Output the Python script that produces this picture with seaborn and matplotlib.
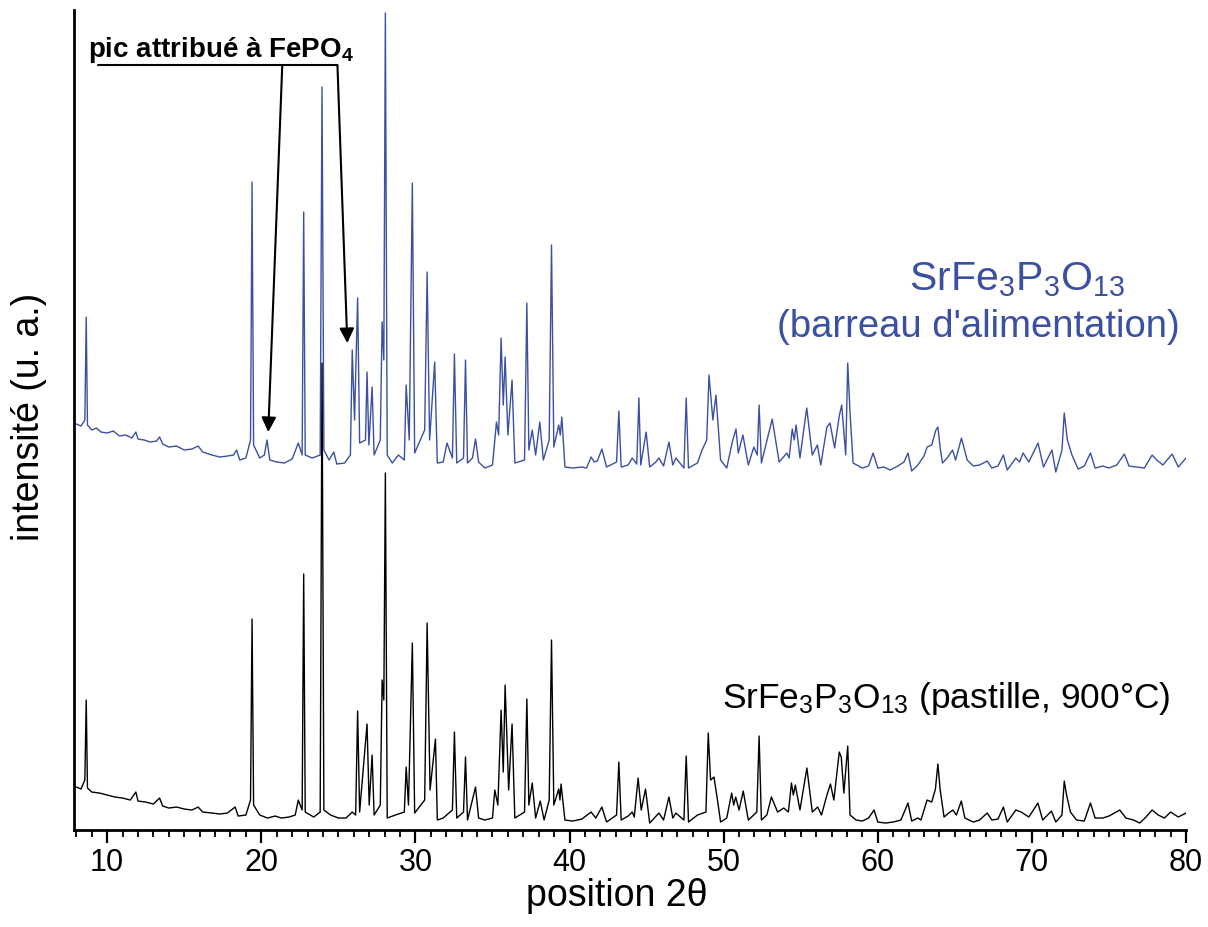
import matplotlib
matplotlib.use("Agg")
import matplotlib.pyplot as plt
from matplotlib.ticker import MultipleLocator
import seaborn as sns

# --- data (2theta in degrees, intensity in a.u.) ---
blue_two_theta = [
    8.0, 8.3, 8.55, 8.64, 8.72, 9.0, 9.3, 9.6, 10.0, 10.4, 10.8, 11.2, 11.6, 11.86, 12.0,
    12.4, 12.8, 13.2, 13.4, 13.6, 14.0, 14.5, 15.0, 15.5, 15.9, 16.2, 16.8, 17.3, 17.8, 18.2,
    18.4, 18.6, 19.0, 19.3, 19.4, 19.5, 19.9, 20.2, 20.37, 20.55, 21.0, 21.5, 22.0, 22.4, 22.65,
    22.75, 22.85, 23.3, 23.82, 23.94, 24.06, 24.4, 24.7, 24.9, 25.4, 25.78, 25.9, 26.05, 26.25, 26.38,
    26.76, 26.86, 26.98, 27.19, 27.32, 27.72, 27.84, 27.95, 28.05, 28.17, 28.5, 28.9, 29.28, 29.4, 29.6,
    29.8, 29.95, 30.6, 30.76, 30.92, 31.25, 31.42, 31.8, 32.05, 32.4, 32.53, 32.68, 33.12, 33.25, 33.38,
    33.7, 33.9, 34.1, 34.5, 35.0, 35.26, 35.4, 35.56, 35.7, 35.82, 36.0, 36.27, 36.45, 37.08, 37.23,
    37.36, 37.58, 37.8, 38.07, 38.3, 38.68, 38.83, 38.98, 39.3, 39.4, 39.5, 39.7, 40.2, 40.8, 41.1,
    41.4, 41.6, 41.8, 42.1, 42.4, 43.05, 43.2, 43.35, 43.8, 44.07, 44.36, 44.5, 44.62, 44.97, 45.2,
    45.6, 45.8, 46.1, 46.45, 46.7, 46.9, 47.42, 47.57, 47.72, 48.3, 48.6, 48.9, 49.05, 49.3, 49.5,
    49.8, 50.2, 50.56, 50.8, 50.95, 51.25, 51.6, 51.96, 52.18, 52.3, 52.45, 53.15, 53.6, 54.1, 54.25,
    54.45, 54.58, 54.7, 54.95, 55.39, 55.75, 56.08, 56.3, 56.7, 56.9, 57.2, 57.5, 57.66, 57.92, 58.05,
    58.2, 58.4, 59.0, 59.4, 59.7, 60.0, 60.4, 60.8, 61.3, 61.7, 61.96, 62.2, 62.6, 63.0, 63.2,
    63.5, 63.77, 63.9, 64.05, 64.2, 64.5, 64.85, 65.05, 65.43, 65.8, 66.2, 66.6, 67.1, 67.4, 67.8,
    68.15, 68.4, 68.96, 69.2, 69.43, 69.8, 70.4, 70.75, 71.3, 71.55, 71.95, 72.1, 72.3, 72.6, 73.0,
    73.4, 73.8, 74.1, 74.6, 75.0, 75.5, 76.0, 76.3, 76.8, 77.3, 77.8, 78.1, 78.5, 79.1, 79.5,
    80.0,
]
blue_counts = [
    56, 54, 60, 163, 55, 50, 52, 48, 47, 49, 44, 45, 42, 48, 41,
    40, 38, 39, 43, 36, 33, 34, 30, 31, 34, 28, 25, 23, 24, 25,
    30, 20, 22, 40, 298, 35, 22, 25, 40, 20, 18, 17, 21, 37, 25,
    268, 25, 22, 25, 393, 30, 20, 28, 16, 17, 25, 130, 60, 182, 37,
    40, 108, 35, 93, 25, 40, 158, 120, 467, 25, 17, 25, 20, 95, 40,
    297, 27, 50, 208, 40, 118, 17, 18, 37, 22, 126, 17, 22, 120, 17,
    22, 41, 18, 12, 15, 58, 45, 142, 75, 123, 45, 100, 17, 20, 177,
    30, 50, 25, 58, 20, 40, 235, 33, 55, 45, 63, 13, 12, 13, 12,
    23, 18, 19, 31, 13, 18, 69, 13, 15, 22, 16, 82, 15, 48, 13,
    18, 22, 14, 38, 15, 22, 12, 82, 12, 17, 30, 40, 105, 60, 85,
    20, 12, 38, 51, 27, 45, 15, 33, 25, 75, 17, 61, 18, 27, 22,
    51, 40, 55, 22, 72, 25, 35, 15, 53, 57, 32, 64, 75, 25, 117,
    67, 17, 12, 14, 27, 12, 13, 10, 14, 18, 27, 9, 15, 24, 33,
    35, 50, 53, 32, 17, 22, 30, 20, 42, 20, 14, 15, 19, 12, 14,
    25, 10, 22, 18, 27, 18, 37, 13, 30, 8, 30, 67, 40, 25, 11,
    14, 27, 12, 14, 12, 15, 26, 14, 13, 12, 25, 20, 15, 26, 13,
    22,
]

black_two_theta = [
    8.0, 8.3, 8.55, 8.64, 8.72, 9.0, 9.5, 10.0, 10.5, 11.0, 11.5, 11.86, 12.0, 12.5, 13.0,
    13.4, 13.6, 14.0, 14.5, 15.0, 15.5, 15.9, 16.2, 16.8, 17.3, 17.8, 18.3, 18.5, 19.0, 19.3,
    19.4, 19.5, 19.9, 20.4, 20.9, 21.3, 21.8, 22.2, 22.4, 22.65, 22.75, 22.85, 23.4, 23.82, 23.94,
    24.06, 24.5, 25.0, 25.5, 25.9, 26.12, 26.25, 26.38, 26.86, 27.0, 27.19, 27.32, 27.72, 27.84, 27.95,
    28.05, 28.17, 28.7, 29.28, 29.4, 29.55, 29.8, 29.95, 30.6, 30.76, 30.95, 31.3, 31.42, 31.8, 32.4,
    32.53, 32.68, 33.12, 33.25, 33.38, 33.9, 34.1, 34.5, 35.0, 35.15, 35.35, 35.56, 35.7, 35.82, 36.05,
    36.27, 36.45, 37.08, 37.23, 37.36, 37.58, 37.8, 38.1, 38.35, 38.68, 38.83, 38.98, 39.3, 39.38, 39.45,
    39.7, 40.2, 40.8, 41.4, 41.7, 42.1, 42.4, 43.05, 43.2, 43.35, 43.8, 44.07, 44.2, 44.45, 44.65,
    44.93, 45.2, 45.5, 45.8, 46.1, 46.45, 46.7, 46.9, 47.42, 47.57, 47.72, 48.3, 48.85, 49.0, 49.15,
    49.37, 49.6, 49.8, 50.2, 50.52, 50.65, 50.78, 51.0, 51.27, 51.6, 52.15, 52.3, 52.45, 52.8, 53.1,
    53.5, 53.9, 54.2, 54.4, 54.52, 54.65, 54.95, 55.4, 55.75, 56.1, 56.35, 56.7, 56.93, 57.15, 57.5,
    57.63, 57.8, 58.05, 58.2, 58.6, 59.0, 59.4, 59.76, 60.0, 60.5, 61.0, 61.5, 61.96, 62.2, 62.6,
    62.8, 63.1, 63.2, 63.5, 63.74, 63.9, 64.05, 64.3, 64.6, 64.87, 65.1, 65.42, 65.65, 66.2, 66.6,
    67.1, 67.4, 67.8, 68.15, 68.4, 68.96, 69.3, 69.8, 70.39, 70.7, 71.27, 71.55, 71.95, 72.1, 72.25,
    72.5, 72.9, 73.4, 73.8, 74.1, 74.6, 75.0, 75.7, 76.1, 76.6, 77.0, 77.4, 77.8, 78.2, 78.6,
    79.0, 79.5, 80.0,
]
black_counts = [
    43, 41, 50, 130, 42, 38, 37, 35, 33, 32, 30, 38, 29, 28, 26,
    32, 24, 22, 23, 21, 20, 23, 18, 17, 16, 17, 23, 14, 15, 30,
    211, 25, 15, 12, 14, 12, 13, 15, 30, 20, 256, 18, 13, 18, 467,
    20, 15, 12, 12, 18, 15, 119, 18, 106, 25, 75, 15, 25, 150, 130,
    357, 12, 15, 18, 63, 25, 187, 17, 30, 207, 40, 91, 10, 12, 20,
    98, 12, 18, 73, 10, 43, 12, 10, 12, 40, 25, 120, 58, 145, 40,
    106, 12, 18, 131, 25, 47, 12, 29, 10, 30, 190, 25, 41, 30, 46,
    10, 9, 11, 18, 12, 23, 8, 15, 68, 10, 14, 18, 13, 52, 20,
    41, 7, 12, 17, 10, 33, 12, 17, 10, 74, 8, 15, 18, 97, 50,
    53, 30, 8, 12, 37, 25, 33, 20, 39, 10, 18, 94, 10, 15, 33,
    18, 22, 18, 47, 35, 45, 20, 62, 18, 23, 15, 35, 46, 30, 78,
    73, 37, 84, 15, 10, 9, 12, 20, 8, 7, 8, 10, 27, 9, 12,
    10, 25, 30, 28, 41, 66, 40, 13, 17, 20, 15, 29, 12, 8, 10,
    17, 10, 11, 23, 8, 20, 18, 13, 27, 10, 19, 8, 15, 49, 35,
    18, 10, 9, 27, 12, 12, 14, 20, 12, 10, 7, 13, 20, 15, 12,
    18, 13, 17,
]

blue_offset = 350

sns.set_style("ticks")
plt.rcParams["font.family"] = ["Liberation Sans", "DejaVu Sans"]
plt.rcParams["mathtext.default"] = "regular"
plt.rcParams["text.color"] = "black"
plt.rcParams["axes.labelcolor"] = "black"
plt.rcParams["xtick.color"] = "black"

fig = plt.figure(figsize=(12.08, 9.27), dpi=100)
ax = fig.add_axes([0.0613, 0.1046, 0.9205, 0.8846])

blue = "#3b50a3"
sns.lineplot(x=blue_two_theta, y=[c + blue_offset for c in blue_counts],
             ax=ax, color=blue, lw=1.0, estimator=None)
sns.lineplot(x=black_two_theta, y=black_counts,
             ax=ax, color="black", lw=1.0, estimator=None)

ax.set_xlim(7.85, 80.0)
ax.set_ylim(0, 820)
ax.set_yticks([])
ax.xaxis.set_major_locator(MultipleLocator(10))
ax.xaxis.set_minor_locator(MultipleLocator(1))
ax.tick_params(axis="x", which="major", direction="out", length=9, width=1.6,
               labelsize=22, pad=4, colors="black")
ax.tick_params(axis="x", which="minor", direction="out", length=5, width=1.3, colors="black")
sns.despine(ax=ax)
for s in ("left", "bottom"):
    ax.spines[s].set_linewidth(2)
    ax.spines[s].set_color("black")

ax.set_xlabel("position 2θ", fontsize=27)
ax.xaxis.set_label_coords(0.488, -0.058)
ax.set_ylabel("intensité (u. a.)", fontsize=27)
ax.yaxis.set_label_coords(-0.024, 0.504)

# sample labels
ax.text(69.0, 540, "SrFe$_3$P$_3$O$_{13}$", color=blue, fontsize=29.5, ha="center", va="baseline")
ax.text(66.5, 493, "(barreau d'alimentation)", color=blue, fontsize=27.5, ha="center", va="baseline")
ax.text(49.9, 122, "SrFe$_3$P$_3$O$_{13}$ (pastille, 900°C)", color="black", fontsize=25.5,
        ha="left", va="baseline")

# FePO4 annotation
ax.text(8.77, 773, "pic attribué à FePO$_4$", fontsize=20, fontweight="bold", ha="left", va="baseline")
ax.plot([9.42, 24.94], [765, 765], color="black", lw=1.5)
for start, tip in [((21.36, 765), (20.45, 398)), ((24.94, 765), (25.58, 487))]:
    ax.annotate("", xy=tip, xytext=start,
                arrowprops=dict(arrowstyle="-|>", color="black", lw=1.5, mutation_scale=22,
                                shrinkA=0, shrinkB=0))

fig.savefig("out.png", dpi=100)
